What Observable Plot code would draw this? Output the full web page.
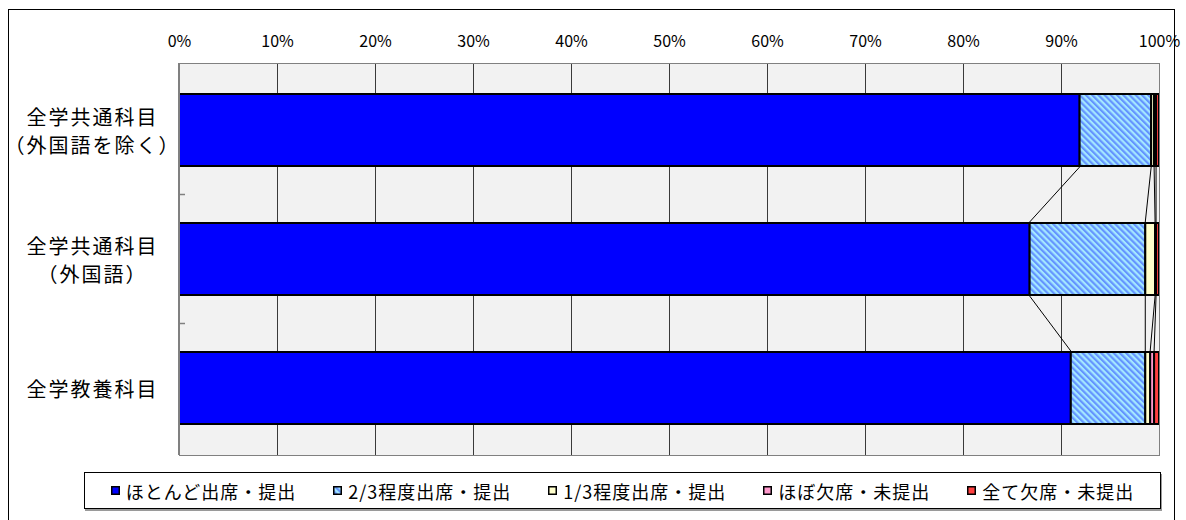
<!DOCTYPE html>
<html>
<head>
<meta charset="utf-8">
<script src="https://cdn.jsdelivr.net/npm/d3@7"></script>
<script src="https://cdn.jsdelivr.net/npm/@observablehq/plot@0.6"></script>
<style>
  body { margin: 0; background: #fff; font-family: "Noto Sans CJK JP", sans-serif; }
  #frame { position: absolute; left: 8px; top: 9px; width: 1167px; height: 600px; border: 1px solid #000; box-sizing: border-box; }
  #chart { position: absolute; left: 0; top: 0; }
  #chart g[aria-label="y-axis tick label"] text { letter-spacing: 2px; }
  #legend { position: absolute; left: 84px; top: 472px; width: 1077px; height: 37px; border: 1px solid #000; box-sizing: border-box;
            box-shadow: 1px 2px 0 #9a9a9a; background: #fff; display: flex; align-items: center; justify-content: center; gap: 37px;
            font-size: 18px; letter-spacing: 1px; color: #000; }
  .item { display: flex; align-items: center; white-space: nowrap; }
  .item svg { margin-right: 6px; }
</style>
</head>
<body>
<div id="frame"></div>
<div id="chart"></div>
<div id="legend"></div>
<script>
// ---- data ----
const categories = ["全学共通科目\n（外国語を除く）", "全学共通科目\n（外国語）", "全学教養科目"];
const series = ["ほとんど出席・提出", "2/3程度出席・提出", "1/3程度出席・提出", "ほぼ欠席・未提出", "全て欠席・未提出"];
const mostlyAttended = [91.9, 86.8, 91.0];
const twoThirdsAttended = [7.3, 11.8, 7.6];
const oneThirdAttended = [0.3, 1.0, 0.5];
const nearlyAbsent = [0.2, 0.1, 0.4];
const allAbsent = [0.3, 0.3, 0.5];
const xTicks = [0, 10, 20, 30, 40, 50, 60, 70, 80, 90, 100];
const seriesColors = ["#0000ff", "url(#hatch)", "#ffffcc", "#ff99cc", "#ff4040"];

const seriesValues = [mostlyAttended, twoThirdsAttended, oneThirdAttended, nearlyAbsent, allAbsent];
const rows = [];
categories.forEach((c, i) => series.forEach((s, j) => rows.push({category: c, series: s, value: seriesValues[j][i]})));

const W = 1186, H = 470;
const plot = Plot.plot({
  width: W,
  height: H,
  marginLeft: 179,
  marginRight: 27,
  marginTop: 63,
  marginBottom: 15,
  style: {fontFamily: "'Noto Sans CJK JP', sans-serif", background: "transparent", overflow: "visible"},
  x: {domain: [0, 100], axis: null, label: null},
  y: {domain: categories, paddingInner: 0.44, paddingOuter: 0.23, axis: null, label: null},
  color: {domain: series, range: seriesColors},
  marks: [
    Plot.frame({fill: "#f2f2f2"}),
    Plot.gridX(xTicks, {stroke: "#3a3a3a", strokeOpacity: 1, strokeWidth: 1}),
    Plot.axisX(xTicks, {anchor: "top", tickSize: 0, tickPadding: 17, tickFormat: d => d + "%", fontSize: 16, fill: "#000", label: null}),
    Plot.axisY({anchor: "left", tickSize: 0, tickPadding: 87, textAnchor: "middle", fontSize: 20, lineHeight: 1.4, fill: "#000", label: null}),
    Plot.barX(rows, Plot.stackX({y: "category", x: "value", z: "series", fill: "series", stroke: "#000", strokeWidth: 2})),
    Plot.frame({stroke: "#808080", strokeWidth: 1})
  ]
});
document.getElementById("chart").appendChild(plot);

// hatch pattern definition
const svg = d3.select(plot);
const defs = svg.insert("defs", ":first-child");
const pat = defs.append("pattern").attr("id", "hatch").attr("patternUnits", "userSpaceOnUse")
  .attr("width", 4.4).attr("height", 4.4).attr("patternTransform", "rotate(-45)");
pat.append("rect").attr("width", 4.4).attr("height", 4.4).attr("fill", "#a4e8ff");
pat.append("rect").attr("width", 2.2).attr("height", 4.4).attr("fill", "#6494ff");

// series lines (connectors between adjacent bars) and left band ticks, using Plot's scales
const xs = plot.scale("x"), ys = plot.scale("y");
const bw = ys.bandwidth, step = ys.step;
const cum = categories.map((c, i) => {
  let s = 0; return seriesValues.map(v => (s += v[i]));
});
const g = svg.append("g").attr("stroke", "#000").attr("stroke-width", 1).attr("fill", "none");
for (let i = 0; i < categories.length - 1; i++) {
  for (let k = 0; k < series.length - 1; k++) {
    g.append("line")
      .attr("x1", xs.apply(cum[i][k])).attr("y1", ys.apply(categories[i]) + bw + 1)
      .attr("x2", xs.apply(cum[i + 1][k])).attr("y2", ys.apply(categories[i + 1]) - 1);
  }
}
const tg = svg.append("g").attr("stroke", "#808080").attr("stroke-width", 1.5);
for (let i = 1; i < categories.length; i++) {
  const yb = ys.apply(categories[i]) - (step - bw) / 2;
  tg.append("line").attr("x1", xs.apply(0) - 1).attr("x2", xs.apply(0) + 6).attr("y1", yb).attr("y2", yb);
}
// left axis edge, darker gray
svg.append("line").attr("stroke", "#808080").attr("stroke-width", 2)
  .attr("x1", xs.apply(0)).attr("x2", xs.apply(0)).attr("y1", 63).attr("y2", H - 15);

// legend
const legend = d3.select("#legend");
series.forEach((s, j) => {
  const it = legend.append("div").attr("class", "item");
  const m = it.append("svg").attr("width", 9).attr("height", 9);
  m.append("rect").attr("x", 0.75).attr("y", 0.75).attr("width", 7.5).attr("height", 7.5)
    .attr("fill", seriesColors[j]).attr("stroke", "#000").attr("stroke-width", 1.5);
  it.append("span").text(s);
});
</script>
</body>
</html>
